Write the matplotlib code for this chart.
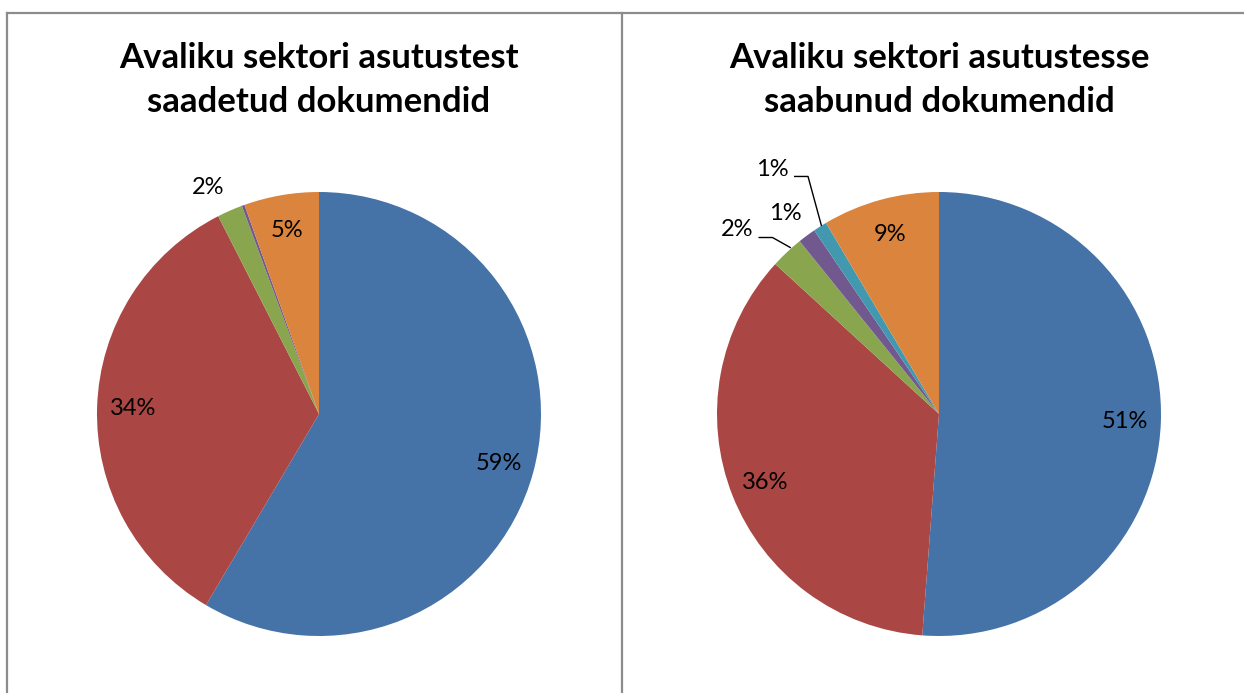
import numpy as np
import matplotlib.pyplot as plt
from matplotlib.lines import Line2D

# andmed (loetud pildilt)
left_title = "Avaliku sektori asutustest\nsaadetud dokumendid"
left_values = [58.5, 34.0, 1.85, 0.2, 5.45]
left_labels = ["59%", "34%", "", "", "5%"]
left_colors = ["#4572A7", "#AA4643", "#89A54E", "#71588F", "#DB843D"]

right_title = "Avaliku sektori asutustesse\nsaabunud dokumendid"
right_values = [51.2, 35.6, 2.4, 1.3, 1.0, 8.5]
right_labels = ["51%", "36%", "", "", "", "9%"]
right_colors = ["#4572A7", "#AA4643", "#89A54E", "#71588F", "#4198AF", "#DB843D"]

plt.rcParams['font.family'] = ['Lato', 'DejaVu Sans']

W, H = 1244, 693
fig = plt.figure(figsize=(W / 100, H / 100), dpi=100)


def draw_pie(ax, values, labels, colors):
    wedges, _ = ax.pie(values, colors=colors, startangle=90, counterclock=False,
                       radius=1, wedgeprops=dict(linewidth=0))
    for w, lab in zip(wedges, labels):
        if not lab:
            continue
        ang = np.deg2rad((w.theta1 + w.theta2) / 2)
        ax.text(0.84 * np.cos(ang), 0.84 * np.sin(ang), lab, ha='center', va='center',
                fontsize=17, color='black')
    ax.set_xlim(-1, 1)
    ax.set_ylim(-1, 1)
    ax.set_aspect('equal')
    ax.axis('off')


R = 222
ax1 = fig.add_axes([(319 - R) / W, (H - 414 - R) / H, 2 * R / W, 2 * R / H])
draw_pie(ax1, left_values, left_labels, left_colors)
ax1.text(-0.5, 1.02, "2%", ha='center', va='center', fontsize=17, clip_on=False)

ax2 = fig.add_axes([(939 - R) / W, (H - 414 - R) / H, 2 * R / W, 2 * R / H])
draw_pie(ax2, right_values, right_labels, right_colors)
ax2.text(-0.91, 0.83, "2%", ha='center', va='center', fontsize=17, clip_on=False)
ax2.plot([-0.81, -0.75, -0.67], [0.795, 0.795, 0.75], color='black', lw=1, clip_on=False)
ax2.text(-0.69, 0.905, "1%", ha='center', va='center', fontsize=17, clip_on=False)
ax2.text(-0.75, 1.10, "1%", ha='center', va='center', fontsize=17, clip_on=False)
ax2.plot([-0.65, -0.59, -0.53], [1.07, 1.07, 0.85], color='black', lw=1, clip_on=False)

fig.text(319 / W, 1 - 80 / H, left_title, ha='center', va='center', fontsize=25,
         fontweight='bold', linespacing=1.45)
fig.text(939 / W, 1 - 80 / H, right_title, ha='center', va='center', fontsize=25,
         fontweight='bold', linespacing=1.45)

# raamid
grey = "#8C8C8C"
fig.add_artist(Line2D([7 / W, 1], [1 - 13 / H, 1 - 13 / H], color=grey, lw=1.6))
fig.add_artist(Line2D([7 / W, 7 / W], [0, 1 - 13 / H], color=grey, lw=1.6))
fig.add_artist(Line2D([622 / W, 622 / W], [0, 1 - 13 / H], color=grey, lw=1.6))

fig.savefig("out.png", dpi=100, facecolor='white')
